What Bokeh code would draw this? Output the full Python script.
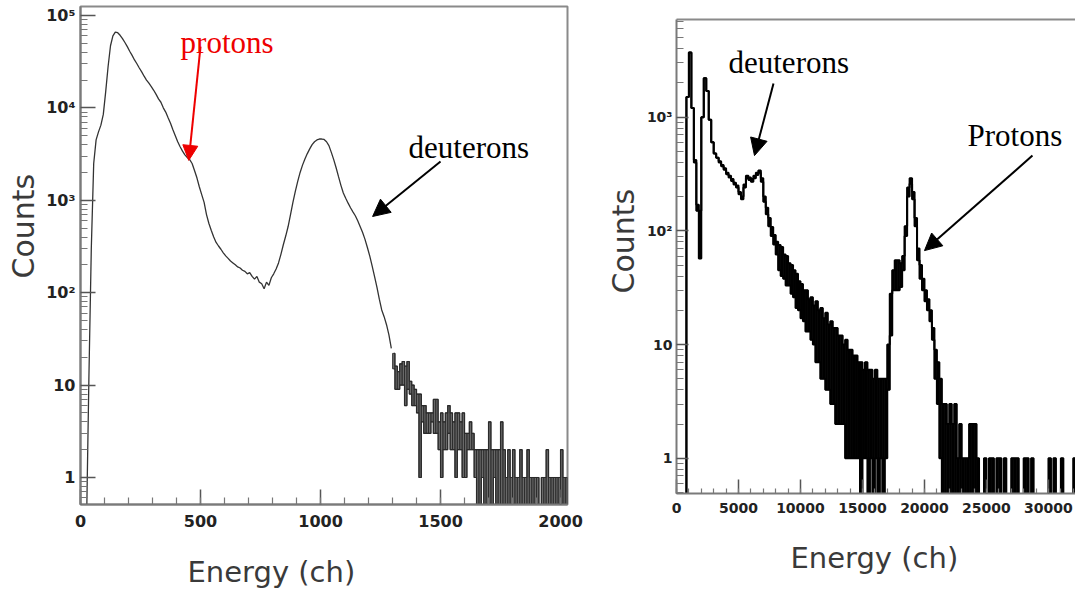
import numpy as np
from bokeh.plotting import figure
from bokeh.layouts import row, column
from bokeh.models import (Range1d, FixedTicker, SingleIntervalTicker, CustomJSTickFormatter,
                          Label, Arrow, NormalHead, LinearAxis, Title)
from bokeh.embed import file_html
from bokeh.resources import INLINE

# ---------------- data ----------------
# Left spectrum: counts per 10-channel bin, channels 0..1300 (smooth part)
LEFT_BIN = 10
left_main_counts = [
    0, 0, 0, 12, 300, 2500, 4500, 5500, 6500, 8500,
    15000, 28000, 47000, 60000, 66000, 65000, 61000, 56000, 51000, 46000,
    41000, 37000, 33000, 30000, 27000, 24500, 22000, 20000, 18500, 17000,
    15500, 14000, 12500, 11500, 10000, 9000, 7800, 6800, 5800, 5000,
    4300, 3800, 3400, 3100, 2900, 2750, 2500, 2100, 1750, 1400,
    1150, 950, 700, 560, 470, 400, 350, 320, 295, 270,
    250, 235, 220, 210, 200, 190, 185, 175, 170, 160,
    165, 150, 140, 150, 130, 125, 110, 130, 120, 145,
    160, 180, 210, 260, 330, 410, 520, 700, 950, 1250,
    1600, 2000, 2400, 2800, 3200, 3600, 4000, 4300, 4500, 4600,
    4600, 4550, 4300, 3900, 3300, 2750, 2250, 1800, 1450, 1200,
    1050, 930, 830, 750, 680, 600, 520, 450, 380, 310,
    250, 195, 150, 115, 85, 65, 55, 45, 35, 25,
]
# Left spectrum noisy tail, channels 1300..2030: lowest / highest level per bin
left_tail_lo = [
    15, 9, 9, 10, 10, 6, 9, 8, 6, 6,
    5, 1, 4, 3, 3, 3, 4, 3, 3, 2,
    1, 2, 2, 3, 2, 2, 1, 2, 2, 1,
    1, 2, 2, 2, 1, 0, 0, 1, 0, 0,
    0, 0, 1, 0, 0, 0, 0, 0, 0, 0,
    0, 0, 0, 0, 0, 0, 0, 0, 0, 0,
    0, 0, 0, 0, 0, 0, 0, 0, 0, 0,
    0, 0, 0,
]
left_tail_hi = [
    22, 16, 14, 17, 18, 16, 18, 11, 10, 9,
    8, 8, 6, 6, 5, 5, 5, 7, 7, 4,
    5, 4, 5, 6, 5, 4, 5, 5, 4, 5,
    3, 3, 4, 3, 2, 2, 2, 2, 2, 2,
    4, 2, 2, 2, 2, 4, 2, 1, 2, 1,
    2, 1, 1, 2, 1, 1, 2, 1, 1, 1,
    1, 0, 1, 1, 2, 1, 1, 1, 1, 1,
    2, 1, 1,
]

# Right spectrum: 200-channel bins, lowest / highest level per bin
RIGHT_BIN = 200
right_lo = [
    0, 0, 0, 0, 1500, 3700, 1200, 400, 150, 57,
    1000, 2200, 1700, 950, 600, 480, 440, 400, 370, 345,
    315, 295, 275, 255, 240, 210, 190, 240, 290, 280,
    270, 290, 310, 325, 270, 180, 140, 110, 90, 76,
    62,
    45, 40, 38, 33, 33, 28, 26, 21, 20, 17,
    16, 13, 13, 11, 10, 7, 7, 5, 5, 4,
    4, 3, 3, 2, 2, 2, 2, 1, 1, 1,
    1, 1, 1, 0, 1, 1, 0, 1, 0, 1,
    0, 1, 0, 1,
    4, 12, 30, 30, 30, 32, 45, 90, 200, 260,
    190, 110, 55, 38, 30, 24, 20, 16, 11, 5,
    3, 1, 0, 0, 0,
    0, 0, 0, 0, 0, 0, 0, 0, 0, 0, 0, 0,
    0, 0, 0, 0, 0, 0, 0, 0, 0, 0,
    0, 0, 0, 0, 0, 0, 0, 0, 0, 0,
    0, 0, 0, 0, 0, 0, 0, 0, 0, 0,
    0, 0, 0, 0, 0, 0, 0, 0, 0, 0,
    0, 0,
]
right_hi = [
    0, 0, 0, 0, 1500, 3700, 1200, 420, 170, 150,
    1000, 2200, 1700, 950, 600, 480, 440, 410, 380, 355,
    325, 305, 285, 265, 250, 220, 200, 255, 305, 295,
    285, 305, 325, 340, 290, 200, 160, 130, 108, 92,
    80,
    75, 72, 62, 60, 52, 50, 45, 42, 36, 34,
    30, 30, 25, 26, 22, 24, 20, 21, 17, 19,
    15, 16, 14, 14, 12, 12, 10, 11, 9, 9,
    8, 8, 7, 7, 6, 7, 6, 6, 5, 6,
    5, 5, 5, 5,
    10, 28, 45, 55, 55, 52, 60, 110, 240, 290,
    220, 130, 70, 50, 38, 30, 25, 20, 14, 9,
    7, 5, 3, 3, 2,
    3, 2, 3, 1, 2, 1, 1, 1, 2, 2, 2, 1,
    0, 0, 1, 0, 1, 1, 0, 1, 1, 0,
    1, 0, 0, 1, 1, 1, 0, 0, 1, 1,
    0, 1, 0, 0, 0, 0, 0, 0, 1, 0,
    1, 0, 0, 1, 0, 0, 0, 0, 1, 0,
    0, 0,
]

left_y_ticks = [1, 10, 100, 1000, 10000, 100000]
right_y_ticks = [1, 10, 100, 1000]
left_x_step = 500
right_x_step = 5000

# ---------------- helpers ----------------
FLOOR = 0.3  # where empty bins are drawn (below the visible axis range)


def log_minors(lo_exp, hi_exp, top=None):
    vals = [m * 10.0 ** e for e in range(lo_exp, hi_exp + 1) for m in range(2, 10)]
    if top is not None:
        vals = [v for v in vals if v <= top]
    return vals


def sup_formatter():
    return CustomJSTickFormatter(code="""
const sup = {2: "\u00b2", 3: "\u00b3", 4: "\u2074", 5: "\u2075"};
const e = Math.round(Math.log10(tick));
if (e <= 0) { return "1"; }
if (e == 1) { return "10"; }
return "10" + sup[e];
""")


def style_axes(p, size, tick_in, minor_in):
    for ax in p.axis:
        ax.axis_line_color = "#7a7a7a"
        ax.axis_line_width = 2
        ax.major_tick_line_color = "#555555"
        ax.major_tick_line_width = 1.5
        ax.minor_tick_line_color = "#777777"
        ax.minor_tick_line_width = 1.2
        ax.major_tick_out = 0
        ax.minor_tick_out = 0
        ax.major_tick_in = tick_in
        ax.minor_tick_in = minor_in
        ax.major_label_text_font = "DejaVu Sans"
        ax.major_label_text_font_style = "bold"
        ax.major_label_text_font_size = size
        ax.major_label_text_color = "#222222"
    p.xgrid.visible = False
    p.ygrid.visible = False


def to_plot(vals):
    v = np.asarray(vals, float)
    return np.where(v > 0, v, FLOOR)


def draw_band(p, lo, hi, start, width, color, lw, fill_alpha):
    centers = start + (np.arange(len(lo)) + 0.5) * width
    lo_p = to_plot(lo)
    hi_p = to_plot(hi)
    p.vbar(x=centers, width=width, bottom=lo_p, top=hi_p, fill_color=color,
           fill_alpha=fill_alpha, line_color=color, line_width=0.8)
    p.step(centers, hi_p, mode="center", line_color=color, line_width=lw)
    p.step(centers, lo_p, mode="center", line_color=color, line_width=lw)


def y_title(p, text, offset, standoff):
    p.add_layout(Title(text=text, align="left", offset=offset, standoff=standoff,
                       text_font="DejaVu Sans", text_font_size="30px",
                       text_font_style="normal", text_color="#3a3a3a"), "left")


def x_title_strip(main, text, x, y, height, border_left, border_right):
    """A thin blank strip under a panel that carries its x-axis title."""
    s = figure(width=main.width, height=height, x_range=main.x_range,
               y_range=Range1d(0, height), x_axis_type=None, y_axis_type=None,
               output_backend="svg", toolbar_location=None,
               min_border_left=border_left, min_border_right=border_right,
               min_border_top=0, min_border_bottom=0,
               background_fill_color="white", border_fill_color="white")
    s.outline_line_color = None
    s.xgrid.visible = False
    s.ygrid.visible = False
    s.add_layout(Label(x=x, y=y, text=text, text_align="left", text_baseline="alphabetic",
                       text_font="DejaVu Sans", text_font_size="29px",
                       text_color="#3a3a3a"))
    return s


def note(p, x, y, text, color):
    p.add_layout(Label(x=x, y=y, text=text, text_align="left", text_baseline="alphabetic",
                       text_font="Liberation Serif", text_font_size="31px", text_color=color))


def arrow(p, x0, y0, x1, y1, color, size):
    p.add_layout(Arrow(x_start=x0, y_start=y0, x_end=x1, y_end=y1, line_color=color,
                       line_width=2,
                       end=NormalHead(size=size, fill_color=color, line_color=color)))


# ---------------- left panel ----------------
p1 = figure(width=600, height=544, x_range=Range1d(0, 2029), y_range=Range1d(0.51, 1.25e5),
            y_axis_type="log", output_backend="svg", toolbar_location=None,
            min_border_left=80, min_border_right=33, min_border_top=6, min_border_bottom=40,
            background_fill_color="white", border_fill_color="white")
p1.outline_line_color = "#8a8a8a"
p1.outline_line_width = 2
p1.xaxis.ticker = SingleIntervalTicker(interval=left_x_step, num_minor_ticks=5)
p1.yaxis.ticker = FixedTicker(ticks=left_y_ticks, minor_ticks=log_minors(-1, 4))
p1.yaxis.formatter = sup_formatter()
style_axes(p1, "16px", 15, 7)
p1.xaxis.major_label_standoff = 10
p1.yaxis.major_label_standoff = 5

main_centers = (np.arange(len(left_main_counts)) + 0.5) * LEFT_BIN
p1.line(main_centers, to_plot(left_main_counts), line_color="#333333", line_width=1.3)
draw_band(p1, left_tail_lo, left_tail_hi, len(left_main_counts) * LEFT_BIN, LEFT_BIN,
          "#2a2a2a", 1.2, 0.7)

y_title(p1, "Counts", 226, 6)

note(p1, 417, 51000, "protons", "#ee0000")
arrow(p1, 500, 46000, 451, 2700, "#ee0000", 15)
note(p1, 1367, 3700, "deuterons", "black")
arrow(p1, 1500, 2630, 1217, 668, "black", 17)

s1 = x_title_strip(p1, "Energy (ch)", 446, 20, 47, 80, 33)

# ---------------- right panel ----------------
p2 = figure(width=475, height=530, x_range=Range1d(0, 32180), y_range=Range1d(0.49, 7220),
            y_axis_type="log", output_backend="svg", toolbar_location=None,
            min_border_left=76, min_border_right=0, min_border_top=19, min_border_bottom=37,
            background_fill_color="white", border_fill_color="white")
p2.outline_line_color = None
p2.xaxis.ticker = SingleIntervalTicker(interval=right_x_step, num_minor_ticks=5)
p2.yaxis.ticker = FixedTicker(ticks=right_y_ticks, minor_ticks=log_minors(-1, 3, top=7000))
p2.yaxis.formatter = sup_formatter()
style_axes(p2, "14px", 12, 7)
p2.xaxis.major_tick_in = 14
p2.xaxis.minor_tick_in = 5
p2.xaxis.major_label_standoff = 9
p2.yaxis.major_label_standoff = 4

top_axis = LinearAxis(ticker=FixedTicker(ticks=[]), axis_line_color="#8a8a8a",
                      axis_line_width=2, major_label_text_font_size="0px",
                      major_label_standoff=0)
p2.add_layout(top_axis, "above")

draw_band(p2, right_lo, right_hi, 0, RIGHT_BIN, "black", 2.0, 1.0)

y_title(p2, "Counts", 200, 6)

note(p2, 4194, 3020, "deuterons", "black")
arrow(p2, 7823, 1972, 6290, 459, "black", 17)
note(p2, 23468, 690, "Protons", "black")
arrow(p2, 28710, 459, 20000, 67, "black", 17)

s2 = x_title_strip(p2, "Energy (ch)", 9194, 34, 61, 76, 0)

layout = row(column(column(p1), column(s1)), column(column(p2), column(s2)))
open("out.html", "w").write(file_html(layout, INLINE))
